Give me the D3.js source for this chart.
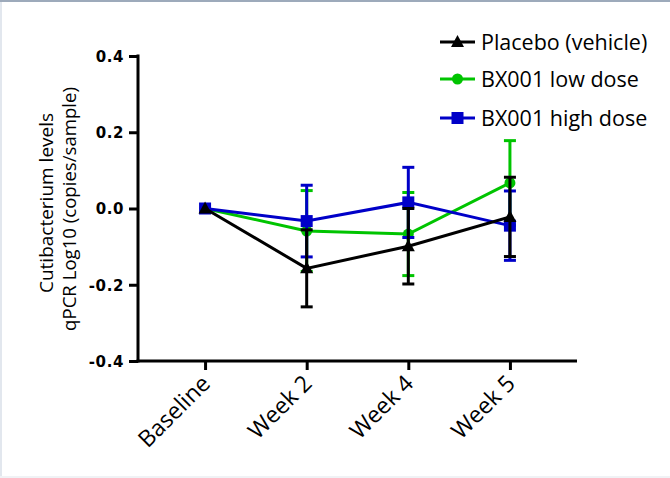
<!DOCTYPE html>
<html><head><meta charset="utf-8">
<script src="https://cdn.jsdelivr.net/npm/d3@7"></script>
<style>
html,body{margin:0;padding:0;background:#fff;}
svg{display:block;}
</style></head>
<body>
<script>
const categories = ["Baseline", "Week 2", "Week 4", "Week 5"];
const seriesNames = ["Placebo (vehicle)", "BX001 low dose", "BX001 high dose"];
const placeboMean = [0, -0.157, -0.099, -0.022];
const placeboErr  = [0, 0.101, 0.099, 0.104];
const lowMean = [0, -0.059, -0.067, 0.067];
const lowErr  = [0, 0.106, 0.109, 0.111];
const highMean = [0, -0.033, 0.016, -0.045];
const highErr  = [0, 0.094, 0.092, 0.091];
const yTicks = [-0.4, -0.2, 0.0, 0.2, 0.4];
const yTitle = ["Cutibacterium levels", "qPCR Log10 (copies/sample)"];

const W = 670, H = 478;
const svg = d3.select("body").append("svg").attr("width", W).attr("height", H);

svg.append("rect").attr("x",0).attr("y",0).attr("width",W).attr("height",H).attr("fill","#fff");
svg.append("rect").attr("x",0).attr("y",0).attr("width",2).attr("height",H).attr("fill","#e2e7ee");
svg.append("rect").attr("x",0).attr("y",H-2).attr("width",W).attr("height",2).attr("fill","#f0f2f5");
svg.append("rect").attr("x",0).attr("y",0).attr("width",W).attr("height",2).attr("fill","#9daabb");

const x = d3.scalePoint().domain(categories).range([138, 577]).padding(0.66);
const y = d3.scaleLinear().domain([-0.4, 0.4]).range([361, 56]);

const fmt = d => d3.format(".1f")(d).replace("\u2212", "-");

// y axis
const gy = svg.append("g").attr("transform","translate(138,0)")
  .call(d3.axisLeft(y).tickValues(yTicks).tickSize(9).tickPadding(5).tickFormat(fmt));
gy.attr("font-size", null).attr("font-family", null);
gy.select(".domain").remove();
gy.append("line").attr("x1",0).attr("x2",0).attr("y1",54.5).attr("y2",362.5)
  .attr("stroke","#000").attr("stroke-width",3);
gy.selectAll(".tick line").attr("stroke", "#000").attr("stroke-width", 3);
gy.selectAll(".tick text")
  .attr("font-family","DejaVu Sans, sans-serif")
  .attr("font-weight","bold").attr("font-size", 15).attr("letter-spacing", 0.6)
  .attr("fill","#000").attr("dy","0.36em");

// x axis
const gx = svg.append("g").attr("transform","translate(0,361)")
  .call(d3.axisBottom(x).tickSize(9).tickPadding(4));
gx.select(".domain").remove();
gx.append("line").attr("x1",136.5).attr("x2",577).attr("y1",0).attr("y2",0)
  .attr("stroke","#000").attr("stroke-width",3);
gx.selectAll(".tick line").attr("stroke", "#000").attr("stroke-width", 3);
gx.selectAll(".tick text")
  .style("font-family","'Open Sans', sans-serif").style("font-size","23px").attr("fill","#000")
  .attr("text-anchor","end").attr("dy", null).attr("y", 0).attr("x", 0)
  .attr("transform","translate(6,24) rotate(-45)");

// y title
const yt = svg.append("g").attr("transform","translate(0,209) rotate(-90)");
yt.selectAll("text").data(yTitle).join("text")
  .attr("x", (d,i) => i === 0 ? 6 : 0)
  .attr("y", (d,i) => i === 0 ? 53 : 76)
  .attr("text-anchor","middle")
  .style("font-family","'Open Sans', sans-serif").style("font-size", (d,i) => i === 0 ? "19px" : "18.6px").attr("fill","#000")
  .text(d => d);

const series = [
  {name: seriesNames[1], mean: lowMean, err: lowErr, color: "#00c400", shape: "circle"},
  {name: seriesNames[2], mean: highMean, err: highErr, color: "#0000c8", shape: "square"},
  {name: seriesNames[0], mean: placeboMean, err: placeboErr, color: "#000000", shape: "triangle"}
];

function marker(g, shape, color, cx, cy) {
  if (shape === "circle") {
    g.append("circle").attr("cx", cx).attr("cy", cy).attr("r", 5.5).attr("fill", color);
  } else if (shape === "square") {
    g.append("rect").attr("x", cx-6).attr("y", cy-6).attr("width", 12).attr("height", 12).attr("fill", color);
  } else {
    g.append("path").attr("d", `M${cx},${cy-7}L${cx+6.5},${cy+5}L${cx-6.5},${cy+5}Z`).attr("fill", color);
  }
}

const line = d3.line().x(d => x(d.c)).y(d => y(d.v));
series.forEach(s => {
  const g = svg.append("g");
  const pts = categories.map((c,i) => ({c, v: s.mean[i], e: s.err[i]}));
  pts.filter(p => p.e > 0).forEach(p => {
    const cx = x(p.c);
    g.append("line").attr("x1", cx).attr("x2", cx).attr("y1", y(p.v + p.e)).attr("y2", y(p.v - p.e))
      .attr("stroke", s.color).attr("stroke-width", 3);
    [p.v + p.e, p.v - p.e].forEach(v => {
      g.append("line").attr("x1", cx-6).attr("x2", cx+6).attr("y1", y(v)).attr("y2", y(v))
        .attr("stroke", s.color).attr("stroke-width", 3);
    });
  });
  g.append("path").datum(pts).attr("d", line).attr("fill","none").attr("stroke", s.color).attr("stroke-width", 3);
  pts.forEach(p => marker(g, s.shape, s.color, x(p.c), y(p.v)));
});

// legend
const legendOrder = [series[2], series[0], series[1]];
const legendY = [42, 79, 118];
legendOrder.forEach((s, i) => {
  const g = svg.append("g");
  const ly = legendY[i];
  g.append("line").attr("x1", 440).attr("x2", 475).attr("y1", ly).attr("y2", ly)
    .attr("stroke", s.color).attr("stroke-width", 3);
  marker(g, s.shape, s.color, 457.5, ly);
  g.append("text").attr("x", 481).attr("y", ly + 8)
    .style("font-family","'Open Sans', sans-serif").style("font-size","21.5px").attr("fill","#000")
    .text(s.name);
});
</script>
</body></html>
